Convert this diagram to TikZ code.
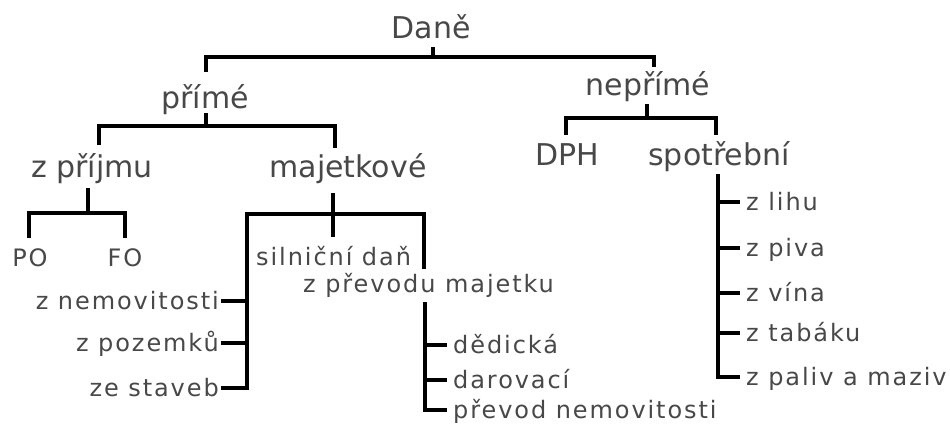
\documentclass[tikz,border=0pt]{standalone}
\usepackage{fontspec}
\setmainfont{DejaVu Sans}
\newfontfamily\bigf{DejaVu Sans}
\newfontfamily\smallf[LetterSpace=8]{DejaVu Sans}
\definecolor{txt}{RGB}{72,72,72}
\begin{document}
\begin{tikzpicture}[x=1pt,y=-1pt,
  tree/.style={line width=3.4pt, line join=miter, line cap=butt, draw=black},
  big/.style={font=\bigf\fontsize{30}{36}\selectfont, text=txt, inner sep=0pt, anchor=base},
  small/.style={font=\smallf\fontsize{24}{29}\selectfont, text=txt, inner sep=0pt},
]
\useasboundingbox[fill=white] (0,0) rectangle (950,428);

% level texts
\node[big] (dane) at (431,39) {Daně};
\node[big] (prime) at (205,108) {přímé};
\node[big] (neprime) at (648,95) {nepřímé};
\node[big] (zprijmu) at (92,177) {z příjmu};
\node[big] (majet) at (348,177) {majetkové};
\node[big] (dph) at (567,165) {DPH};
\node[big] (spotr) at (719,165) {spotřební};

\node[small,anchor=base] (po) at (30,266) {PO};
\node[small,anchor=base] (fo) at (125,266) {FO};
\node[small,anchor=base west] (silnicni) at (256,265) {silniční daň};
\node[small,anchor=base west] (zprevodu) at (303,292) {z převodu majetku};
\node[small,anchor=base east] (znemov) at (219,309) {z nemovitosti};
\node[small,anchor=base east] (zpozem) at (219,351) {z pozemků};
\node[small,anchor=base east] (zestav) at (219,396) {ze staveb};
\node[small,anchor=base west] (dedic) at (453,353) {dědická};
\node[small,anchor=base west] (darov) at (453,388) {darovací};
\node[small,anchor=base west] (prevod) at (453,418) {převod nemovitosti};
\node[small,anchor=base west] (zlihu) at (746,210) {z lihu};
\node[small,anchor=base west] (zpiva) at (746,256) {z piva};
\node[small,anchor=base west] (zvina) at (746,301) {z vína};
\node[small,anchor=base west] (ztabak) at (746,341) {z tabáku};
\node[small,anchor=base west] (zpaliv) at (746,385) {z paliv a maziv};

% Daně
\draw[tree] ([xshift=2pt,yshift=-8pt]dane.base) -- ++(0,10) coordinate (b0);
\draw[tree] ([xshift=1pt,yshift=36pt]prime.base) |- (b0) -| ([xshift=6pt,yshift=28pt]neprime.base);

% přímé
\draw[tree] ([xshift=1pt,yshift=-5pt]prime.base) -- ++(0,13) coordinate (b1);
\draw[tree] ([xshift=7pt,yshift=32pt]zprijmu.base) |- (b1) -| ([xshift=-13pt,yshift=29pt]majet.base);

% z příjmu
\draw[tree] ([xshift=-4pt,yshift=-11pt]zprijmu.base) -- ++(0,25) coordinate (b2);
\draw[tree] ([xshift=-1pt,yshift=28pt]po.base) |- (b2) -| ([yshift=28pt]fo.base);

% majetkové
\draw[tree] ([xshift=-15pt,yshift=-16pt]majet.base) -- ++(0,21) coordinate (b3);
\draw[tree] (b3) -- ([xshift=77pt,yshift=28pt]silnicni.base west);
\coordinate (mL) at ([xshift=-86pt]b3);
\draw[tree] ([xshift=2pt,yshift=8pt]zestav.base east) -| (mL) -| ([xshift=121pt,yshift=23pt]zprevodu.base west);
\draw[tree] ([xshift=2pt,yshift=8pt]znemov.base east) coordinate (t) -- (t -| mL);
\draw[tree] ([xshift=2pt,yshift=8pt]zpozem.base east) coordinate (t) -- (t -| mL);

% z převodu majetku
\draw[tree] ([xshift=122pt,yshift=-10pt]zprevodu.base west) coordinate (pv) |- ([xshift=-6pt,yshift=8pt]prevod.base west);
\draw[tree] ([xshift=-6pt,yshift=8pt]dedic.base west) coordinate (t) -- (t -| pv);
\draw[tree] ([xshift=-6pt,yshift=8pt]darov.base west) coordinate (t) -- (t -| pv);

% nepřímé
\draw[tree] ([xshift=-1pt,yshift=-9pt]neprime.base) -- ++(0,14) coordinate (b4);
\draw[tree] ([xshift=-1pt,yshift=30pt]dph.base) |- (b4) -| ([xshift=-3pt,yshift=30pt]spotr.base);

% spotřební
\draw[tree] ([xshift=-1pt,yshift=-9pt]spotr.base) coordinate (sv) |- ([xshift=-6pt,yshift=8pt]zpaliv.base west);
\draw[tree] ([xshift=-6pt,yshift=8pt]zlihu.base west) coordinate (t) -- (t -| sv);
\draw[tree] ([xshift=-6pt,yshift=8pt]zpiva.base west) coordinate (t) -- (t -| sv);
\draw[tree] ([xshift=-6pt,yshift=8pt]zvina.base west) coordinate (t) -- (t -| sv);
\draw[tree] ([xshift=-6pt,yshift=8pt]ztabak.base west) coordinate (t) -- (t -| sv);
\end{tikzpicture}
\end{document}
